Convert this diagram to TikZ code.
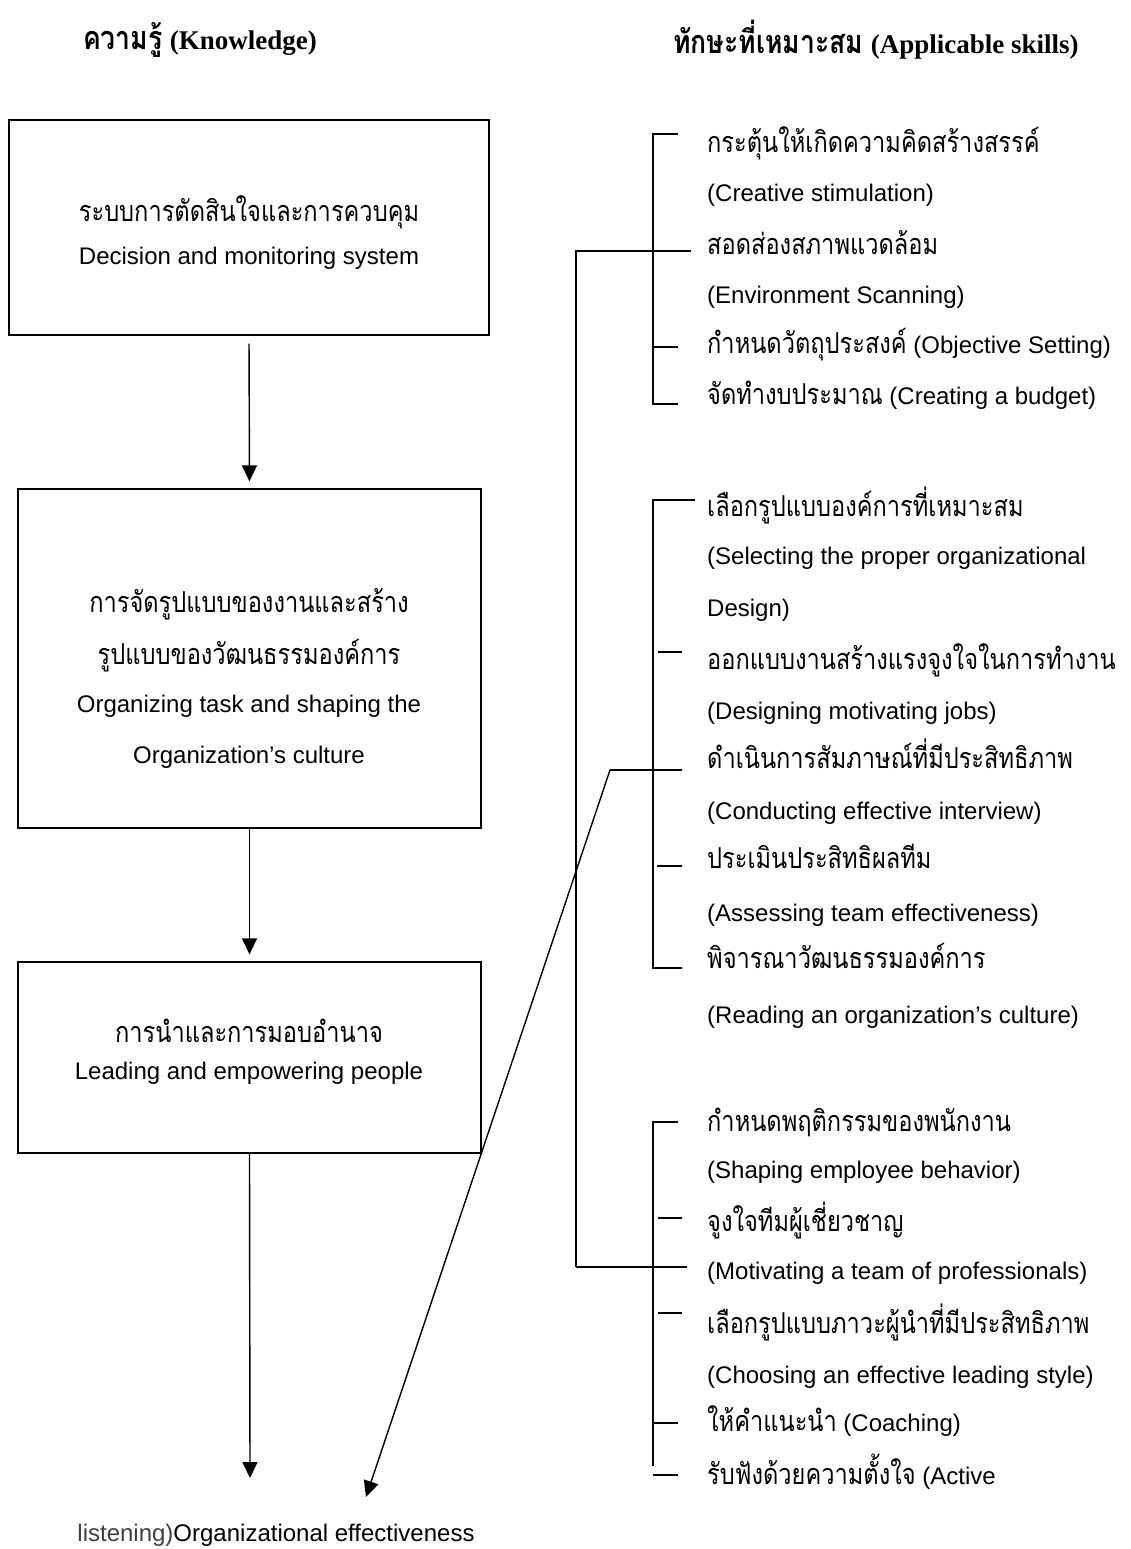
\documentclass[tikz,border=0pt]{standalone}
\usepackage{fontspec}
\setmainfont{Liberation Sans}
\newfontfamily\thai[Script=Thai,Scale=1.2,FakeStretch=0.82]{Loma}
\newfontfamily\hser{Liberation Serif}
\usetikzlibrary{arrows.meta}
\newcommand{\T}[1]{{\thai #1}}
\begin{document}
\begin{tikzpicture}[x=1pt,y=-1pt,
 box/.style={draw, line width=1.3pt, inner sep=0pt},
 txt/.style={inner sep=0pt, text height=18pt, text depth=6pt, font=\fontsize{24}{28}\selectfont},
 sk/.style={txt, anchor=west},
 hd/.style={inner sep=0pt, font=\fontsize{27}{32}\selectfont\bfseries},
 br/.style={line width=1.5pt},
 arr/.style={line width=1.4pt, -{Triangle[length=16pt,width=15pt]}}
]
\useasboundingbox (0,0) rectangle (1130,1549);
% headings
\node[hd] (hk) at (200,40) {\T{ความรู้} {\hser (Knowledge)}};
\node[hd] (hs) at (876,40) {\T{ทักษะที่เหมาะสม} {\hser (Applicable skills)}};
% boxes
\node[box, minimum width=480pt, minimum height=215pt] (b1) at (249,227.5) {};
\node[box, minimum width=463pt, minimum height=339pt] (b2) at (249.5,658.5) {};
\node[box, minimum width=463pt, minimum height=191pt] (b3) at (249.5,1057.5) {};
\node[txt] (b1a) at (249,215) {\T{ระบบการตัดสินใจและการควบคุม}};
\node[txt] (b1b) at (249,258) {Decision and monitoring system};
\node[txt] (b2a) at (249,606) {\T{การจัดรูปแบบของงานและสร้าง}};
\node[txt] (b2b) at (249,658) {\T{รูปแบบของวัฒนธรรมองค์การ}};
\node[txt] (b2c) at (249,706) {Organizing task and shaping the};
\node[txt] (b2d) at (249,757) {Organization’s culture};
\node[txt] (b3a) at (249,1036) {\T{การนำและการมอบอำนาจ}};
\node[txt] (b3b) at (249,1073) {Leading and empowering people};
% result
\node[txt] (res) at (276,1535) {\textcolor{black!75}{listening)}Organizational effectiveness};
\coordinate (e1) at (250,1478);
\coordinate (d0) at (610,770);
\coordinate (d1) at (366,1497);
% arrows
\draw[arr, shorten <=8pt, shorten >=7pt] (b1.south) -- (b2.north);
\draw[arr, shorten >=7pt] (b2.south) -- (b3.north);
\draw[arr] (b3.south) -- (e1);
% skills text
\node[sk] (s1) at (707,147) {\T{กระตุ้นให้เกิดความคิดสร้างสรรค์}};
\node[sk] (s2) at (707,195) {(Creative stimulation)};
\node[sk] (s3) at (707,248) {\T{สอดส่องสภาพแวดล้อม}};
\node[sk] (s4) at (707,297) {(Environment Scanning)};
\node[sk] (s5) at (707,347) {\T{กำหนดวัตถุประสงค์} (Objective Setting)};
\node[sk] (s6) at (707,398) {\T{จัดทำงบประมาณ} (Creating a budget)};
\node[sk] (s7) at (707,510) {\T{เลือกรูปแบบองค์การที่เหมาะสม}};
\node[sk] (s8) at (707,558) {(Selecting the proper organizational};
\node[sk] (s9) at (707,610) {Design)};
\node[sk] (s10) at (707,663) {\T{ออกแบบงานสร้างแรงจูงใจในการทำงาน}};
\node[sk] (s11) at (707,713) {(Designing motivating jobs)};
\node[sk] (s12) at (707,762) {\T{ดำเนินการสัมภาษณ์ที่มีประสิทธิภาพ}};
\node[sk] (s13) at (707,813) {(Conducting effective interview)};
\node[sk] (s14) at (707,862) {\T{ประเมินประสิทธิผลทีม}};
\node[sk] (s15) at (707,915) {(Assessing team effectiveness)};
\node[sk] (s16) at (707,962) {\T{พิจารณาวัฒนธรรมองค์การ}};
\node[sk] (s17) at (707,1017) {(Reading an organization’s culture)};
\node[sk] (s18) at (707,1125) {\T{กำหนดพฤติกรรมของพนักงาน}};
\node[sk] (s19) at (707,1172) {(Shaping employee behavior)};
\node[sk] (s20) at (707,1225) {\T{จูงใจทีมผู้เชี่ยวชาญ}};
\node[sk] (s21) at (707,1273) {(Motivating a team of professionals)};
\node[sk] (s22) at (707,1327) {\T{เลือกรูปแบบภาวะผู้นำที่มีประสิทธิภาพ}};
\node[sk] (s23) at (707,1377) {(Choosing an effective leading style)};
\node[sk] (s24) at (707,1425) {\T{ให้คำแนะนำ} (Coaching)};
\node[sk] (s25) at (707,1478) {\T{รับฟังด้วยความตั้งใจ} (Active};
% brackets group 1
\draw[br] (678,134) -| (653,404) -- (678,404);
\draw[br] (653,347) -- (678,347);
% outer bracket
\draw[br] (576,1267) |- (691,251);
\draw[br] (576,1267) -- (687,1267);
% group 2
\draw[br] (695,500) -| (653,968) -- (682,968);
\draw[br] (658,652) -- (682,652);
\draw[br] (657,866) -- (682,866);
% diagonal connector
\draw[br] (682,770) -- (d0);
\draw[arr] (d0) -- (d1);
% group 3
\draw[br] (678,1122) -| (653,1466);
\draw[br] (658,1218) -- (682,1218);
\draw[br] (658,1313) -- (682,1313);
\draw[br] (653,1423) -- (678,1423);
\draw[br] (653,1475) -- (678,1475);
\end{tikzpicture}
\end{document}
